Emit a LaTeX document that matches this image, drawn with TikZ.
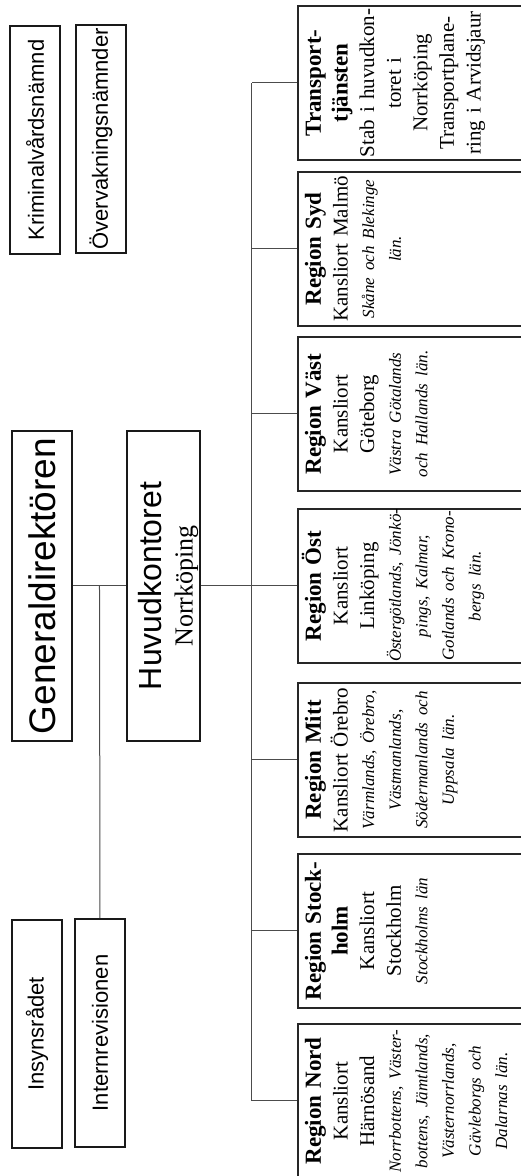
\documentclass[tikz,border=0pt]{standalone}
\usepackage{fontspec}
\setmainfont{Liberation Serif}
\setsansfont{Liberation Sans}
\usetikzlibrary{positioning}

\newcommand{\regname}[1]{{\bfseries\fontsize{23}{26.6}\selectfont #1}}
\newcommand{\lanname}[1]{\mbox{\itshape\fontsize{17}{26.6}\selectfont #1}}

\begin{document}
\begin{tikzpicture}[
            x=1pt, y=1pt, rotate=90, transform shape,
            board/.style={draw=black!90, line width=1.8pt, inner sep=0pt,
                minimum width=228pt, minimum height=50pt,
                font=\sffamily\fontsize{22}{26}\selectfont},
            chief/.style={draw=black!90, line width=1.8pt, inner sep=0pt,
                minimum width=310pt, align=center},
            region/.style={draw=black!85, line width=2.3pt, inner xsep=1pt, inner ysep=3pt,
                text width=152pt, align=center, text height=20pt, text depth=214pt,
                font=\fontsize{21}{26.6}\selectfont},
            link/.style={draw=black!70, line width=1pt}
        ]
        \useasboundingbox (0,0) rectangle (1176,521);

        % Ledning %
        \node[chief, minimum height=60pt, font=\sffamily\fontsize{37}{40}\selectfont] (gd) at (590,479) {Generaldirektören};
        \node[chief, minimum height=73pt, font=\fontsize{26}{31}\selectfont] (hk) at (590,357.5)
            {\rule{0pt}{33pt}{\sffamily\fontsize{32}{31}\selectfont Huvudkontoret}\\Norrköping};

        % Nämnder och råd %
        \node[board] (kriminal) at (1036,486) {Kriminalvårdsnämnd};
        \node[board] (overvak) at (1037,420) {Övervakningsnämnder};
        \node[board] (insyn) at (142,484) {Insynsrådet};
        \node[board] (intern) at (143,421) {Internrevisionen};

        % Regioner %
        \node[region] (nord) at (75,103) {\regname{Region Nord}\\ Kansliort\\ Härnösand\\
            \lanname{Norrbottens, Väster-}\\ \lanname{bottens, Jämtlands,}\\ \lanname{Västernorrlands,}\\
            \lanname{Gävleborgs och}\\ \lanname{Dalarnas län.}};
        \node[region] (stockholm) at (245,103) {\regname{Region Stock-}\\ \regname{holm}\\ Kansliort\\ Stockholm\\
            \lanname{Stockholms län}};
        \node[region] (mitt) at (416,103) {\regname{Region Mitt}\\ Kansliort Örebro\\
            \lanname{Värmlands, Örebro,}\\ \lanname{Västmanlands,}\\ \lanname{Södermanlands och}\\ \lanname{Uppsala län.}};
        \node[region] (ost) at (590,103) {\regname{Region Öst}\\ Kansliort\\ Linköping\\
            \lanname{Östergötlands, Jönkö-}\\ \lanname{pings, Kalmar,}\\ \lanname{Gotlands och Krono-}\\ \lanname{bergs län.}};
        \node[region] (vast) at (762,103) {\regname{Region Väst}\\ Kansliort\\ Göteborg\\
            \lanname{Västra Götalands}\\ \lanname{och Hallands län.}};
        \node[region] (syd) at (927,103) {\regname{Region Syd}\\ Kansliort Malmö\\
            \lanname{Skåne och Blekinge}\\ \lanname{län.}};
        \node[region] (transport) at (1093,103) {\regname{Transport-}\\ \regname{tjänsten}\\ Stab i huvudkon-\\
            toret i\\ Norrköping\\ Transportplane-\\ ring i Arvidsjaur};

        % Linjer %
        \draw[link] (gd.south) -- coordinate (split) (hk.north);
        \draw[link] (split) -- (intern.east);
        \draw[link] (hk.south) -- (ost.north);
        \foreach \r in {nord,stockholm,mitt,vast,syd,transport}
            \draw[link] (\r.north) -- ++(0,45);
        \draw[link] ([yshift=45pt]nord.north) -- ([yshift=45pt]transport.north);
\end{tikzpicture}
\end{document}
